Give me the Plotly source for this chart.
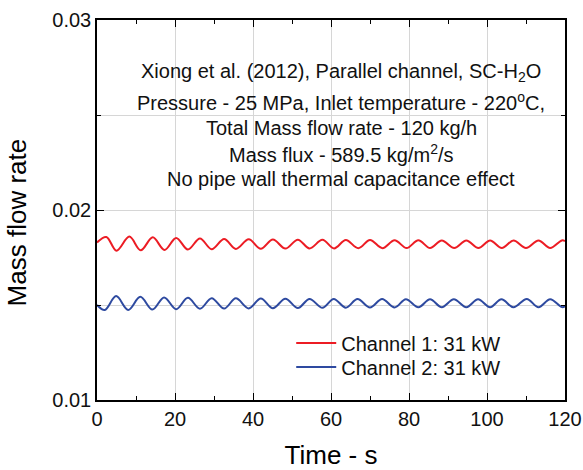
import plotly.graph_objects as go

# Time (s) of the read-off turning points of each curve
red_t = [0, 2.4, 5.0, 8.3, 11.2, 14.3, 17.3, 20.3, 23.3, 26.4, 29.4, 32.6, 35.6, 38.9,
         42.0, 45.1, 48.3, 51.5, 54.5, 57.8, 60.8, 63.8, 67.0, 70.0, 73.2, 76.3, 79.4,
         82.4, 85.4, 88.4, 91.6, 94.7, 97.8, 100.8, 103.8, 106.8, 110.0, 113.2, 116.2,
         119.2, 120]
red_m = [0.01829, 0.01858, 0.01786, 0.01860, 0.01788, 0.01856, 0.01790, 0.01853, 0.01792,
         0.01850, 0.01794, 0.01848, 0.01795, 0.01846, 0.01796, 0.01845, 0.01797, 0.01844,
         0.01798, 0.01843, 0.01798, 0.01842, 0.01799, 0.01842, 0.01799, 0.01841, 0.01800,
         0.01841, 0.01800, 0.01840, 0.01800, 0.01840, 0.01800, 0.01840, 0.01800, 0.01839,
         0.01800, 0.01840, 0.01800, 0.01840, 0.01837]

blue_t = [0, 2.0, 4.9, 8.0, 11.1, 14.2, 17.2, 20.3, 23.3, 26.4, 29.4, 32.6, 35.6, 38.9,
          42.0, 45.1, 48.3, 51.5, 54.5, 57.8, 60.7, 63.8, 66.8, 70.0, 73.1, 76.3, 79.2,
          82.4, 85.4, 88.4, 91.5, 94.7, 97.7, 100.8, 103.7, 106.8, 110.2, 113.2, 116.2,
          119.2, 120]
blue_m = [0.01500, 0.01474, 0.01547, 0.01474, 0.01543, 0.01476, 0.01540, 0.01478, 0.01538,
          0.01480, 0.01536, 0.01481, 0.01535, 0.01482, 0.01534, 0.01483, 0.01533, 0.01484,
          0.01532, 0.01485, 0.01532, 0.01486, 0.01531, 0.01487, 0.01531, 0.01487, 0.01530,
          0.01488, 0.01530, 0.01488, 0.01530, 0.01488, 0.01530, 0.01488, 0.01530, 0.01488,
          0.01532, 0.01488, 0.01530, 0.01489, 0.01493]

series_names = ["Channel 1: 31 kW", "Channel 2: 31 kW"]
x_ticks = [0, 20, 40, 60, 80, 100, 120]
y_ticks = [0.01, 0.02, 0.03]
y_tick_text = ["0.01", "0.02", "0.03"]
notes = [
    "Xiong et al. (2012), Parallel channel, SC-H<sub>2</sub>O",
    "Pressure - 25 MPa, Inlet temperature - 220<sup>o</sup>C,",
    "Total Mass flow rate - 120 kg/h",
    "Mass flux - 589.5 kg/m<sup>2</sup>/s",
    "No pipe wall thermal capacitance effect",
]
note_y = [0.861, 0.785, 0.717, 0.650, 0.582]

FONT = "Liberation Sans, Arial, Helvetica, sans-serif"

fig = go.Figure()
fig.add_trace(go.Scatter(x=red_t, y=red_m, mode="lines", name=series_names[0], legend="legend",
                         line=dict(color="rgb(236,28,36)", width=2, shape="spline", smoothing=1)))
fig.add_trace(go.Scatter(x=blue_t, y=blue_m, mode="lines", name=series_names[1], legend="legend2",
                         line=dict(color="rgb(46,74,160)", width=2, shape="spline", smoothing=1)))

for txt, yy in zip(notes, note_y):
    fig.add_annotation(text=txt, x=0.522, y=yy, xref="paper", yref="paper",
                       xanchor="center", yanchor="middle", showarrow=False,
                       font=dict(family=FONT, size=20, color="#111"))

fig.add_annotation(text="Mass flow rate", x=-0.172, y=0.466, xref="paper", yref="paper",
                   textangle=-90, showarrow=False, xanchor="center", yanchor="middle",
                   font=dict(family=FONT, size=26, color="#000"))

axis_common = dict(showline=True, linecolor="black", linewidth=1.5, mirror="allticks",
                   ticks="inside", ticklen=7, tickwidth=1.2, tickcolor="black",
                   showgrid=True, gridcolor="#d6d6d6", gridwidth=1, zeroline=False,
                   automargin=False,
                   tickfont=dict(family=FONT, size=20, color="#111"))

fig.update_xaxes(range=[0, 120], tickvals=x_ticks,
                 minor=dict(ticks="inside", ticklen=4, dtick=10, tick0=0, tickcolor="black",
                            showgrid=False),
                 title=dict(text="Time - s", font=dict(family=FONT, size=26, color="#000"),
                            standoff=22),
                 **axis_common)
fig.update_yaxes(range=[0.01, 0.03], tickvals=y_ticks, ticktext=y_tick_text,
                 minor=dict(ticks="inside", ticklen=4, dtick=0.005, tick0=0.01,
                            tickcolor="black", showgrid=True, gridcolor="#d6d6d6"),
                 **axis_common)

leg_common = dict(xanchor="left", yanchor="middle", bgcolor="rgba(0,0,0,0)",
                  font=dict(family=FONT, size=20, color="#111"), itemwidth=40)
fig.update_layout(
    width=583, height=470,
    margin=dict(l=97, r=18, t=20, b=70, autoexpand=False),
    plot_bgcolor="white", paper_bgcolor="white",
    showlegend=True,
    legend=dict(x=0.415, y=0.150, **leg_common),
    legend2=dict(x=0.415, y=0.087, **leg_common),
    font=dict(family=FONT),
)

fig.write_html("out.html")
